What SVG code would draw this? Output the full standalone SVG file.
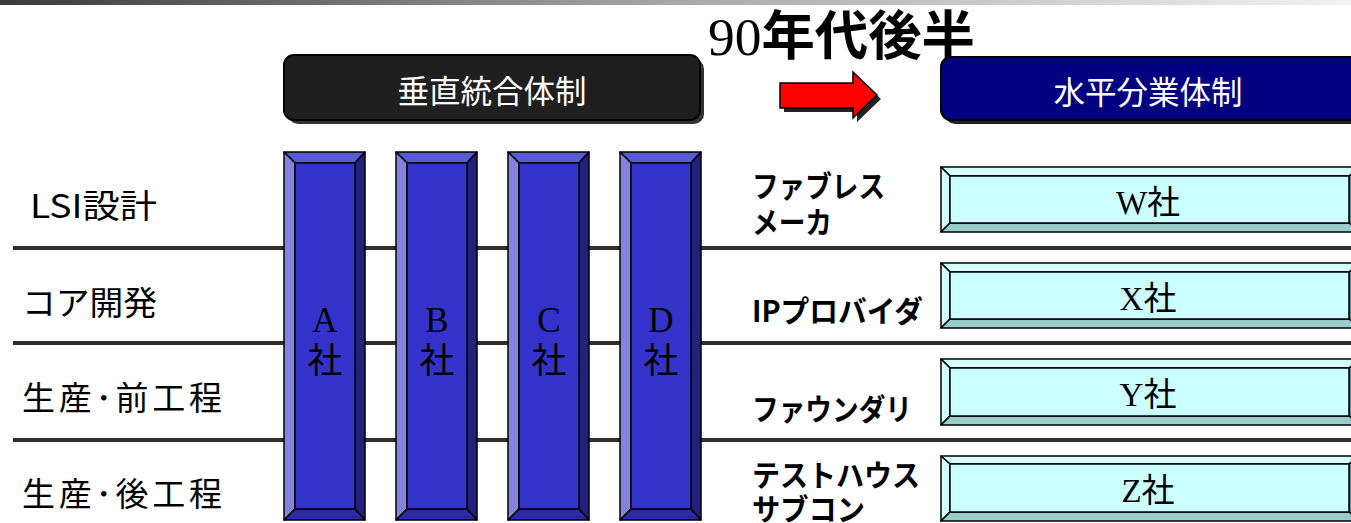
<svg xmlns="http://www.w3.org/2000/svg" width="1351" height="523" viewBox="0 0 1351 523">
<defs>
<linearGradient id="topbar" x1="0" y1="0" x2="1" y2="0">
<stop offset="0" stop-color="#3a3a3a"/>
<stop offset="0.5" stop-color="#a8a8a8"/>
<stop offset="1" stop-color="#f2f2f2"/>
</linearGradient>
<style>
.bv{stroke:#000;stroke-width:1.5;stroke-linejoin:round}
.bt{fill:#5a5ad8}.bl{fill:#8484e0}.br{fill:#22227c}.bb{fill:#2a2aa6}.bf{fill:#3333cc}
.ct{fill:#d6ffff}.cl{fill:#d0ffff}.cr{fill:#6a9a9a}.cb{fill:#99cccc}.cf{fill:#ccffff}
.row{stroke:#2e2e2e;stroke-width:4}
.lbl{font-family:"Noto Sans CJK JP",sans-serif;font-size:33px;fill:#000}
.rl{font-family:"Noto Sans CJK JP",sans-serif;font-size:30px;font-weight:bold;fill:#000}
.co{font-family:"Liberation Serif","Noto Sans CJK JP",serif;font-size:35px;fill:#000;text-anchor:middle}
.cw{font-family:"Liberation Serif","Noto Sans CJK JP",serif;font-size:33px;fill:#000;text-anchor:middle}
.hd{font-family:"Noto Sans CJK JP",sans-serif;font-size:31.5px;fill:#fff;text-anchor:middle}
</style>
</defs>
<rect x="0" y="0" width="1351" height="5" fill="url(#topbar)"/>
<g id="title">
<text x="708" y="55" font-size="53" font-family="Liberation Serif,serif" fill="#000" textLength="267" lengthAdjust="spacingAndGlyphs">90<tspan font-family="Noto Sans CJK JP,sans-serif" font-weight="bold">年代後半</tspan></text>
</g>
<g id="connectors">
<line class="row" x1="13" y1="248" x2="1351" y2="248"/>
<line class="row" x1="13" y1="343" x2="1351" y2="343"/>
<line class="row" x1="13" y1="440" x2="1351" y2="440"/>
</g>
<g id="header-vertical">
<rect x="288" y="59" width="416" height="65" rx="10" fill="#333"/>
<rect x="284" y="55" width="416" height="65" rx="10" fill="#1f1f1f" stroke="#000" stroke-width="2"/>
<text class="hd" x="492" y="103">垂直統合体制</text>
</g>
<g id="arrow">
<polygon points="784,87 857,87 857,76 881,99 857,122 857,112 784,112" fill="#222"/>
<polygon points="780,83 853,83 853,72 877,95 853,118 853,108 780,108" fill="#ff0000" stroke="#000" stroke-width="1.5"/>
</g>
<g id="header-horizontal">
<rect x="945" y="61" width="420" height="63" rx="10" fill="#222"/>
<rect x="941" y="57" width="420" height="63" rx="10" fill="#000080" stroke="#000" stroke-width="2"/>
<text class="hd" x="1148" y="104">水平分業体制</text>
</g>
<g id="label-lsi"><text class="lbl" x="30" y="218" textLength="127" lengthAdjust="spacingAndGlyphs">LSI設計</text></g>
<g id="label-core"><text class="lbl" x="22" y="315" textLength="135" lengthAdjust="spacingAndGlyphs">コア開発</text></g>
<g id="label-front"><text class="lbl" x="22" y="410" textLength="200" lengthAdjust="spacing">生産･前工程</text></g>
<g id="label-back"><text class="lbl" x="22" y="506" textLength="200" lengthAdjust="spacing">生産･後工程</text></g>
<g id="company-a" class="bv">
<polygon class="bt" points="284,152 365,152 355,163 295,163"/>
<polygon class="bl" points="284,152 295,163 295,509 284,520"/>
<polygon class="br" points="365,152 365,520 355,509 355,163"/>
<polygon class="bb" points="284,520 295,509 355,509 365,520"/>
<rect class="bf" x="295" y="163" width="60" height="346"/>
<text class="co" x="325" y="332" stroke="none">A</text><text class="co" x="325" y="373" stroke="none">社</text>
</g>
<g id="company-b" class="bv">
<polygon class="bt" points="396,152 477,152 467,163 407,163"/>
<polygon class="bl" points="396,152 407,163 407,509 396,520"/>
<polygon class="br" points="477,152 477,520 467,509 467,163"/>
<polygon class="bb" points="396,520 407,509 467,509 477,520"/>
<rect class="bf" x="407" y="163" width="60" height="346"/>
<text class="co" x="437" y="332" stroke="none">B</text><text class="co" x="437" y="373" stroke="none">社</text>
</g>
<g id="company-c" class="bv">
<polygon class="bt" points="508,152 589,152 579,163 519,163"/>
<polygon class="bl" points="508,152 519,163 519,509 508,520"/>
<polygon class="br" points="589,152 589,520 579,509 579,163"/>
<polygon class="bb" points="508,520 519,509 579,509 589,520"/>
<rect class="bf" x="519" y="163" width="60" height="346"/>
<text class="co" x="549" y="332" stroke="none">C</text><text class="co" x="549" y="373" stroke="none">社</text>
</g>
<g id="company-d" class="bv">
<polygon class="bt" points="620,152 701,152 691,163 631,163"/>
<polygon class="bl" points="620,152 631,163 631,509 620,520"/>
<polygon class="br" points="701,152 701,520 691,509 691,163"/>
<polygon class="bb" points="620,520 631,509 691,509 701,520"/>
<rect class="bf" x="631" y="163" width="60" height="346"/>
<text class="co" x="661" y="332" stroke="none">D</text><text class="co" x="661" y="373" stroke="none">社</text>
</g>
<g id="role-fabless">
<text class="rl" x="752" y="197" textLength="133" lengthAdjust="spacingAndGlyphs">ファブレス</text>
<text class="rl" x="752" y="233" textLength="80" lengthAdjust="spacingAndGlyphs">メーカ</text>
</g>
<g id="role-ip"><text class="rl" x="752" y="322" textLength="171" lengthAdjust="spacingAndGlyphs">IPプロバイダ</text></g>
<g id="role-foundry"><text class="rl" x="752" y="420" textLength="160" lengthAdjust="spacingAndGlyphs">ファウンダリ</text></g>
<g id="role-test">
<text class="rl" x="752" y="486" textLength="168" lengthAdjust="spacingAndGlyphs">テストハウス</text>
<text class="rl" x="752" y="520" textLength="113" lengthAdjust="spacingAndGlyphs">サブコン</text>
</g>
<g id="company-w" class="bv">
<polygon class="ct" points="941,167 1360,167 1349,176 950,176"/>
<polygon class="cl" points="941,167 950,176 950,223 941,232"/>
<polygon class="cr" points="1360,167 1360,232 1349,223 1349,176"/>
<polygon class="cb" points="941,232 950,223 1349,223 1360,232"/>
<rect class="cf" x="950" y="176" width="399" height="47"/>
<text class="cw" x="1148" y="214" stroke="none">W社</text>
</g>
<g id="company-x" class="bv">
<polygon class="ct" points="941,263 1360,263 1349,272 950,272"/>
<polygon class="cl" points="941,263 950,272 950,319 941,328"/>
<polygon class="cr" points="1360,263 1360,328 1349,319 1349,272"/>
<polygon class="cb" points="941,328 950,319 1349,319 1360,328"/>
<rect class="cf" x="950" y="272" width="399" height="47"/>
<text class="cw" x="1148" y="310" stroke="none">X社</text>
</g>
<g id="company-y" class="bv">
<polygon class="ct" points="941,359 1360,359 1349,368 950,368"/>
<polygon class="cl" points="941,359 950,368 950,416 941,425"/>
<polygon class="cr" points="1360,359 1360,425 1349,416 1349,368"/>
<polygon class="cb" points="941,425 950,416 1349,416 1360,425"/>
<rect class="cf" x="950" y="368" width="399" height="48"/>
<text class="cw" x="1148" y="406" stroke="none">Y社</text>
</g>
<g id="company-z" class="bv">
<polygon class="ct" points="941,456 1360,456 1349,464 950,464"/>
<polygon class="cl" points="941,456 950,464 950,512 941,521"/>
<polygon class="cr" points="1360,456 1360,521 1349,512 1349,464"/>
<polygon class="cb" points="941,521 950,512 1349,512 1360,521"/>
<rect class="cf" x="950" y="464" width="399" height="48"/>
<text class="cw" x="1148" y="502" stroke="none">Z社</text>
</g>
</svg>
